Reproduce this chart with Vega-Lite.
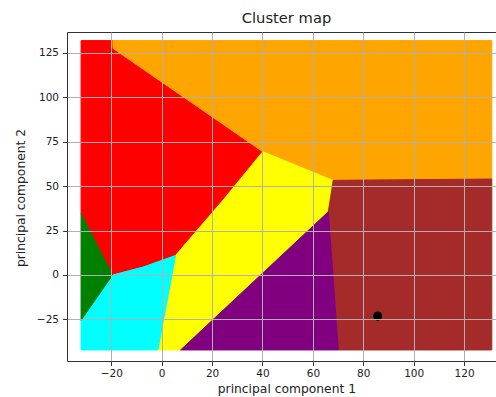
{
  "$schema": "https://vega.github.io/schema/vega-lite/v6.json",
  "width": 429,
  "height": 329,
  "autosize": {"type": "none"},
  "padding": {"left": 67, "top": 32, "right": 0, "bottom": 36},
  "background": "white",
  "config": {
    "font": "DejaVu Sans",
    "view": {"stroke": "#333333", "strokeWidth": 1},
    "axis": {
      "domain": false,
      "grid": true,
      "gridColor": "#b0b0b0",
      "gridWidth": 1,
      "gridOpacity": 1,
      "tickColor": "#333333",
      "tickSize": 4.5,
      "tickWidth": 1,
      "labelFont": "DejaVu Sans",
      "labelFontSize": 10.5,
      "labelColor": "#222222",
      "labelOverlap": false,
      "labelFlush": false,
      "titleFont": "DejaVu Sans",
      "titleFontSize": 12.3,
      "titleFontWeight": "normal",
      "titleColor": "#222222"
    }
  },
  "title": {
    "text": "Cluster map",
    "font": "DejaVu Sans",
    "fontSize": 14.7,
    "fontWeight": "normal",
    "color": "#222222",
    "anchor": "middle",
    "dx": 5,
    "offset": 6
  },
  "datasets": {
    "regions": [
      {"region": "red", "x": -32, "top": 131.9, "bottom": 34.5},
      {"region": "red", "x": -19.5, "top": 131.9, "bottom": 0},
      {"region": "red", "x": -19.4, "top": 131.9, "bottom": 0.04},
      {"region": "red", "x": -19.3, "top": 127.5, "bottom": 0.07},
      {"region": "red", "x": -7.3, "top": 115.8, "bottom": 4.5},
      {"region": "red", "x": 5.5, "top": 103.2, "bottom": 11},
      {"region": "red", "x": 24.4, "top": 84.8, "bottom": 42.2},
      {"region": "red", "x": 40.1, "top": 69.4, "bottom": 69.4},
      {"region": "orange", "x": -19.4, "top": 131.9, "bottom": 131.9},
      {"region": "orange", "x": -19.3, "top": 131.9, "bottom": 127.5},
      {"region": "orange", "x": 40.1, "top": 131.9, "bottom": 69.4},
      {"region": "orange", "x": 67.9, "top": 131.9, "bottom": 53.2},
      {"region": "orange", "x": 131, "top": 131.9, "bottom": 54},
      {"region": "yellow", "x": -1.5, "top": -42.2, "bottom": -42.2},
      {"region": "yellow", "x": 5.5, "top": 11, "bottom": -42.2},
      {"region": "yellow", "x": 7.5, "top": 14.3, "bottom": -42.2},
      {"region": "yellow", "x": 24.4, "top": 42.2, "bottom": -19.8},
      {"region": "yellow", "x": 40.1, "top": 69.4, "bottom": 1.1},
      {"region": "yellow", "x": 66.1, "top": 54.3, "bottom": 35.6},
      {"region": "yellow", "x": 67.9, "top": 53.2, "bottom": 51.6},
      {"region": "brown", "x": 66.1, "top": 35.6, "bottom": 35.6},
      {"region": "brown", "x": 67.5, "top": 48.0, "bottom": 8.4},
      {"region": "brown", "x": 67.9, "top": 51.6, "bottom": 0.6},
      {"region": "brown", "x": 68.0, "top": 53.2, "bottom": -1.3},
      {"region": "brown", "x": 70.1, "top": 53.3, "bottom": -42.2},
      {"region": "brown", "x": 131, "top": 54, "bottom": -42.2},
      {"region": "purple", "x": 7.5, "top": -42.2, "bottom": -42.2},
      {"region": "purple", "x": 66.1, "top": 35.6, "bottom": -42.2},
      {"region": "purple", "x": 67.5, "top": 8.4, "bottom": -42.2},
      {"region": "purple", "x": 70.1, "top": -42.2, "bottom": -42.2},
      {"region": "cyan", "x": -32, "top": -25.5, "bottom": -42.2},
      {"region": "cyan", "x": -19.5, "top": 0, "bottom": -42.2},
      {"region": "cyan", "x": -7.3, "top": 4.5, "bottom": -42.2},
      {"region": "cyan", "x": -1.5, "top": 7.45, "bottom": -42.2},
      {"region": "cyan", "x": 5.5, "top": 11, "bottom": 11},
      {"region": "green", "x": -32, "top": 34.5, "bottom": -25.5},
      {"region": "green", "x": -19.5, "top": 0, "bottom": 0}
    ],
    "point": [
      {"x": 85.7, "y": -23.1}
    ]
  },
  "layer": [
    {
      "data": {"name": "regions"},
      "mark": {"type": "area", "interpolate": "linear", "strokeWidth": 1, "opacity": 1},
      "encoding": {
        "x": {
          "field": "x",
          "type": "quantitative",
          "scale": {"domain": [-37.58, 132.66], "nice": false, "zero": false},
          "axis": {
            "values": [-20, 0, 20, 40, 60, 80, 100, 120],
            "title": "principal component 1",
            "labelPadding": 3,
            "titleX": 219.4,
            "titleY": 31.7,
            "titleAlign": "center",
            "titleBaseline": "alphabetic",
            "zindex": 1
          }
        },
        "y": {
          "field": "top",
          "type": "quantitative",
          "stack": null,
          "scale": {"domain": [-48.4, 136.75], "nice": false, "zero": false},
          "axis": {
            "values": [-25, 0, 25, 50, 75, 100, 125],
            "title": "principal component 2",
            "labelPadding": 4,
            "titleX": -42.7,
            "titleY": 165.5,
            "titleAngle": -90,
            "titleAlign": "center",
            "titleBaseline": "alphabetic",
            "zindex": 1
          }
        },
        "y2": {"field": "bottom"},
        "color": {
          "field": "region",
          "type": "nominal",
          "scale": {
            "domain": ["red", "orange", "yellow", "brown", "purple", "cyan", "green"],
            "range": ["#ff0000", "#ffa500", "#ffff00", "#a52a2a", "#800080", "#00ffff", "#008000"]
          },
          "legend": null
        },
        "stroke": {
          "field": "region",
          "type": "nominal",
          "scale": {
            "domain": ["red", "orange", "yellow", "brown", "purple", "cyan", "green"],
            "range": ["#ff0000", "#ffa500", "#ffff00", "#a52a2a", "#800080", "#00ffff", "#008000"]
          },
          "legend": null
        }
      }
    },
    {
      "data": {"name": "point"},
      "mark": {"type": "circle", "color": "black", "opacity": 1, "size": 85},
      "encoding": {
        "x": {"field": "x", "type": "quantitative"},
        "y": {"field": "y", "type": "quantitative"}
      }
    }
  ]
}
